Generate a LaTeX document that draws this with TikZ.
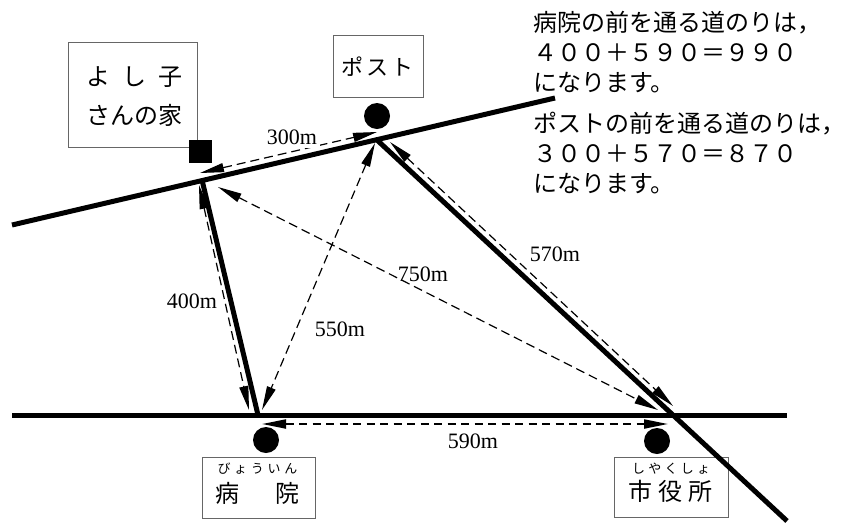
\documentclass[tikz,border=0pt]{standalone}
\usepackage{fontspec}
\newfontfamily\jp{Noto Sans CJK JP}
\newfontfamily\numf{Liberation Serif}
\usetikzlibrary{arrows.meta}
\begin{document}
\begin{tikzpicture}[x=1pt,y=-1pt,
  road/.style={line width=5pt,black},
  dim/.style={line width=1.2pt,dash pattern=on 9pt off 5pt,
    {Triangle[length=24pt,width=9pt]}-{Triangle[length=24pt,width=9pt]}},
  dimb/.style={line width=2pt,dash pattern=on 8pt off 5.5pt,
    {Triangle[length=24pt,width=9pt]}-{Triangle[length=24pt,width=9pt]}},
  lab/.style={font=\numf\fontsize{22}{22}\selectfont,inner sep=0pt},
  place/.style={draw=black!60,line width=1pt,inner sep=0pt},
  jtxt/.style={font=\jp\fontsize{24}{24}\selectfont,inner sep=0pt},
  ruby/.style={font=\jp\fontsize{13}{13}\selectfont,inner sep=0pt},
  dot/.style={circle,fill=black,minimum size=26pt,inner sep=0pt},
  note/.style={font=\jp\fontsize{24}{30}\selectfont,align=left,inner sep=0pt,anchor=west}
]
\useasboundingbox (0,0) rectangle (856,523);
% junctions and road ends
\coordinate (H) at (202,180);
\coordinate (P) at (377,140);
\coordinate (B) at (258,415);
\coordinate (C) at (672,415);
\coordinate (TL) at (12,225);
\coordinate (TR) at (555,98);
\coordinate (BL) at (12,415);
\coordinate (BR) at (787,415);
\coordinate (E) at (787,521);
% boxes
\node[place,minimum width=129pt,minimum height=105pt] (housebox) at (132.5,94.5) {};
\node[jtxt] (house1) at (134,77) {\makebox[96pt][s]{よ\hfill し\hfill 子}};
\node[jtxt] (house2) at (134,115) {さんの家};
\node[place,minimum width=90pt,minimum height=62pt] (postbox) at (378,66) {};
\node[jtxt,font=\jp\fontsize{22}{22}\selectfont] (posttxt) at (377.5,67) {\makebox[72pt][s]{ポ\hfill ス\hfill ト}};
\node[place,minimum width=113pt,minimum height=61pt] (hospbox) at (258.5,487.5) {};
\node[ruby] (hospruby) at (257.5,469) {\makebox[80pt][s]{び\hfill ょ\hfill う\hfill い\hfill ん}};
\node[jtxt] (hosptxt) at (257,493) {\makebox[84pt][s]{病\hfill 院}};
\node[place,minimum width=114pt,minimum height=60pt] (citybox) at (671,487) {};
\node[ruby] (cityruby) at (671,469) {\makebox[78pt][s]{し\hfill や\hfill く\hfill し\hfill ょ}};
\node[jtxt] (citytxt) at (670,491) {\makebox[84pt][s]{市\hfill 役\hfill 所}};
% roads
\draw[road] (TL) -- (TR);
\draw[road] (BL) -- (BR);
\draw[road] (H) -- (B);
\draw[road] (P) -- (E);
% markers
\node[fill=black,minimum size=23pt,inner sep=0pt] (housemark) at (200,151) {};
\node[dot] (postdot) at (377,116) {};
\node[dot] (hospdot) at (266,440) {};
\node[dot] (citydot) at (657,441) {};
% dimension ends
\coordinate (a1) at (200,173);
\coordinate (a2) at (377,132);
\coordinate (b1) at (199,185);
\coordinate (b2) at (249,410);
\coordinate (c1) at (375,143);
\coordinate (c2) at (262,410);
\coordinate (d1) at (218,187);
\coordinate (d2) at (658,410);
\coordinate (e1) at (390,142);
\coordinate (e2) at (673,406);
\coordinate (f1) at (262,424);
\coordinate (f2) at (668,424);
\draw[dim] (a1) -- (a2);
\draw[dim] (b1) -- (b2);
\draw[dim] (c1) -- (c2);
\draw[dim] (d1) -- (d2);
\draw[dim] (e1) -- (e2);
\draw[dimb] (f1) -- (f2);
% labels
\node[lab,fill=white,inner sep=3pt] (l300) at (292,137.5) {300m};
\node[lab] (l400) at (192,301) {400m};
\node[lab] (l550) at (340,329) {550m};
\node[lab] (l750) at (423,274) {750m};
\node[lab] (l570) at (555,254) {570m};
\node[lab] (l590) at (473,441) {590m};
% notes
\node[note] (note1) at (533,52) {病院の前を通る道のりは，\\４００＋５９０＝９９０\\になります。};
\node[note] (note2) at (533,153) {ポストの前を通る道のりは，\\３００＋５７０＝８７０\\になります。};
\end{tikzpicture}
\end{document}
